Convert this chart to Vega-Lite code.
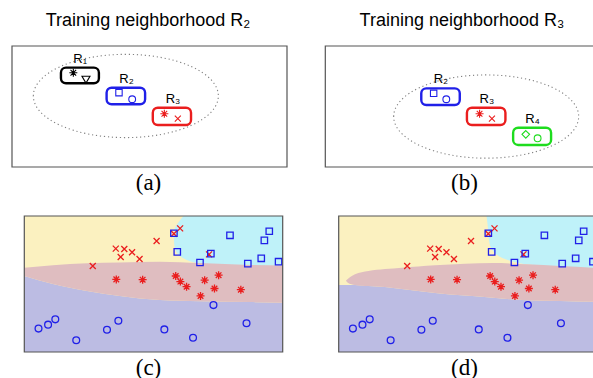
{
 "$schema": "https://vega.github.io/schema/vega-lite/v6.json",
 "background": "white",
 "padding": {"left": 0, "top": 12, "right": 0, "bottom": 0},
 "config": {
  "view": {"stroke": null},
  "title": {"font": "Liberation Sans", "fontSize": 18, "fontWeight": "normal", "color": "#000000", "offset": 15},
  "axisX": {"labels": false, "ticks": false, "domain": false, "grid": false, "titleFont": "Liberation Serif", "titleFontSize": 23, "titleFontWeight": "normal", "titleColor": "#000000", "titlePadding": 3}
 },
 "datasets": {
  "frame": [{"x": 0, "x2": 100, "y": 0, "y2": 100}],
  "ellA": [{"x": 41.4, "y": 58.7}],
  "ellB": [{"x": 58.5, "y": 41.7}],
  "boxA": [
   {"x": 17.8, "x2": 31.6, "y": 69.2, "y2": 82.1, "c": "k"},
   {"x": 34.4, "x2": 48.4, "y": 51.8, "y2": 65.5, "c": "b"},
   {"x": 51.2, "x2": 65.1, "y": 34.7, "y2": 49.0, "c": "r"}
  ],
  "boxB": [
   {"x": 34.9, "x2": 48.9, "y": 51.2, "y2": 65.0, "c": "b"},
   {"x": 51.5, "x2": 65.5, "y": 34.7, "y2": 49.0, "c": "r"},
   {"x": 68.3, "x2": 82.1, "y": 18.2, "y2": 32.5, "c": "g"}
  ],
  "mkA": [
   {"x": 22.3, "y": 77.9, "m": "ast", "c": "k"},
   {"x": 26.9, "y": 72.5, "m": "tri", "c": "k"},
   {"x": 38.9, "y": 61.4, "m": "sq", "c": "b"},
   {"x": 43.7, "y": 56.0, "m": "ci", "c": "b"},
   {"x": 55.4, "y": 44.0, "m": "ast", "c": "r"},
   {"x": 60.3, "y": 39.9, "m": "x", "c": "r"}
  ],
  "mkB": [
   {"x": 39.4, "y": 60.9, "m": "sq", "c": "b"},
   {"x": 44.0, "y": 56.0, "m": "ci", "c": "b"},
   {"x": 56.1, "y": 44.0, "m": "ast", "c": "r"},
   {"x": 60.6, "y": 39.9, "m": "x", "c": "r"},
   {"x": 72.9, "y": 27.0, "m": "dia", "c": "g"},
   {"x": 77.2, "y": 23.7, "m": "ci", "c": "g"}
  ],
  "lblA": [
   {"x": 22.3, "y": 86.2, "t": "R₁"},
   {"x": 39.0, "y": 69.7, "t": "R₂"},
   {"x": 55.9, "y": 53.1, "t": "R₃"}
  ],
  "lblB": [
   {"x": 39.4, "y": 69.7, "t": "R₂"},
   {"x": 56.1, "y": 53.1, "t": "R₃"},
   {"x": 72.7, "y": 36.6, "t": "R₄"}
  ],
  "bandC": [
   {"x": 0, "top": 62.0, "bot": 55.9},
   {"x": 11.1, "top": 63.8, "bot": 50.0},
   {"x": 24.3, "top": 65.2, "bot": 44.9},
   {"x": 37.0, "top": 65.8, "bot": 41.2},
   {"x": 52.5, "top": 66.4, "bot": 38.2},
   {"x": 68.0, "top": 65.4, "bot": 37.3},
   {"x": 87.4, "top": 64.0, "bot": 36.7},
   {"x": 100, "top": 63.6, "bot": 36.3}
  ],
  "cyanC": [
   {"y": 100, "x": 61.6},
   {"y": 94.9, "x": 59.5},
   {"y": 91.2, "x": 58.3},
   {"y": 85.0, "x": 57.9},
   {"y": 79.4, "x": 58.0},
   {"y": 74.3, "x": 58.7},
   {"y": 69.1, "x": 61.4},
   {"y": 65.4, "x": 66.9},
   {"y": 63.0, "x": 75.0},
   {"y": 60.0, "x": 82.0}
  ],
  "bandD": [
   {"x": 2.8, "top": 52.3, "bot": 52.3},
   {"x": 3.5, "top": 53.6, "bot": 51.0},
   {"x": 6.3, "top": 57.1, "bot": 49.3},
   {"x": 11.5, "top": 59.6, "bot": 48.5},
   {"x": 17.9, "top": 61.0, "bot": 47.8},
   {"x": 24.4, "top": 62.0, "bot": 46.3},
   {"x": 30.8, "top": 62.9, "bot": 44.9},
   {"x": 37.3, "top": 63.8, "bot": 43.4},
   {"x": 48.9, "top": 64.9, "bot": 41.5},
   {"x": 59.7, "top": 65.4, "bot": 39.9},
   {"x": 72.9, "top": 64.5, "bot": 38.0},
   {"x": 85.7, "top": 63.2, "bot": 37.5},
   {"x": 100.4, "top": 61.8, "bot": 36.8}
  ],
  "blueD": [
   {"x": 0, "y": 49.3},
   {"x": 6.3, "y": 49.3},
   {"x": 11.5, "y": 48.5},
   {"x": 17.9, "y": 47.8},
   {"x": 24.4, "y": 46.3},
   {"x": 30.8, "y": 44.9},
   {"x": 37.3, "y": 43.4},
   {"x": 48.9, "y": 41.5},
   {"x": 59.7, "y": 39.9},
   {"x": 72.9, "y": 38.0},
   {"x": 85.7, "y": 37.5},
   {"x": 100.4, "y": 36.8}
  ],
  "cyanD": [
   {"y": 100, "x": 57.2},
   {"y": 89.0, "x": 57.9},
   {"y": 81.6, "x": 58.2},
   {"y": 73.0, "x": 60.3},
   {"y": 68.2, "x": 64.6},
   {"y": 65.7, "x": 69.1},
   {"y": 64.5, "x": 72.8},
   {"y": 63.2, "x": 79.9},
   {"y": 60.0, "x": 88.0}
  ],
  "pts": [
   {"x": 60.3, "y": 90.9, "m": "x", "c": "r"},
   {"x": 57.9, "y": 87.0, "m": "x", "c": "r"},
   {"x": 51.2, "y": 81.6, "m": "x", "c": "r"},
   {"x": 35.4, "y": 76.0, "m": "x", "c": "r"},
   {"x": 38.7, "y": 75.7, "m": "x", "c": "r"},
   {"x": 41.7, "y": 73.3, "m": "x", "c": "r"},
   {"x": 37.3, "y": 69.9, "m": "x", "c": "r"},
   {"x": 44.6, "y": 68.4, "m": "x", "c": "r"},
   {"x": 26.5, "y": 63.2, "m": "x", "c": "r"},
   {"x": 71.5, "y": 71.8, "m": "x", "c": "r"},
   {"x": 57.9, "y": 87.3, "m": "sq", "c": "b"},
   {"x": 79.6, "y": 85.8, "m": "sq", "c": "b"},
   {"x": 94.8, "y": 88.8, "m": "sq", "c": "b"},
   {"x": 92.9, "y": 82.1, "m": "sq", "c": "b"},
   {"x": 59.2, "y": 73.6, "m": "sq", "c": "b"},
   {"x": 72.2, "y": 72.3, "m": "sq", "c": "b"},
   {"x": 68.0, "y": 65.8, "m": "sq", "c": "b"},
   {"x": 86.5, "y": 65.0, "m": "sq", "c": "b"},
   {"x": 91.7, "y": 68.9, "m": "sq", "c": "b"},
   {"x": 98.4, "y": 66.4, "m": "sq", "c": "b"},
   {"x": 35.6, "y": 53.4, "m": "ast", "c": "r"},
   {"x": 45.8, "y": 53.2, "m": "ast", "c": "r"},
   {"x": 58.6, "y": 55.9, "m": "ast", "c": "r"},
   {"x": 60.4, "y": 51.8, "m": "ast", "c": "r"},
   {"x": 62.8, "y": 48.0, "m": "ast", "c": "r"},
   {"x": 69.8, "y": 52.8, "m": "ast", "c": "r"},
   {"x": 75.2, "y": 56.5, "m": "ast", "c": "r"},
   {"x": 73.6, "y": 46.7, "m": "ast", "c": "r"},
   {"x": 68.2, "y": 41.2, "m": "ast", "c": "r"},
   {"x": 83.8, "y": 45.8, "m": "ast", "c": "r"},
   {"x": 73.2, "y": 34.5, "m": "ci", "c": "b"},
   {"x": 5.5, "y": 17.2, "m": "ci", "c": "b"},
   {"x": 9.2, "y": 20.1, "m": "ci", "c": "b"},
   {"x": 12.0, "y": 24.0, "m": "ci", "c": "b"},
   {"x": 20.1, "y": 8.6, "m": "ci", "c": "b"},
   {"x": 32.0, "y": 16.4, "m": "ci", "c": "b"},
   {"x": 36.4, "y": 23.0, "m": "ci", "c": "b"},
   {"x": 54.2, "y": 16.6, "m": "ci", "c": "b"},
   {"x": 65.3, "y": 10.5, "m": "ci", "c": "b"},
   {"x": 86.0, "y": 21.1, "m": "ci", "c": "b"}
  ]
 },
 "spacing": 21,
 "resolve": {"scale": {"x": "independent", "y": "independent"}},
 "vconcat": [
  {
   "spacing": 18,
   "resolve": {"scale": {"x": "independent", "y": "independent"}},
   "hconcat": [
    {
     "width": 296, "height": 123,
     "title": {"text": "Training neighborhood R₂"},
     "layer": [
      {"data": {"name": "frame"}, "mark": {"type": "rect", "filled": false, "stroke": "#555555", "strokeWidth": 1.2},
       "encoding": {
        "x": {"field": "x", "type": "quantitative", "scale": {"domain": [-4.364, 103.273], "nice": false, "zero": false}, "axis": {"title": "(a)"}},
        "x2": {"field": "x2"},
        "y": {"field": "y", "type": "quantitative", "scale": {"domain": [-0.826, 100.826], "nice": false, "zero": false}, "axis": null},
        "y2": {"field": "y2"}}},
      {"data": {"name": "ellA"}, "mark": {"type": "point", "shape": "M-1,0C-1,-0.2485,-0.5523,-0.45,0,-0.45C0.5523,-0.45,1,-0.2485,1,0C1,0.2485,0.5523,0.45,0,0.45C-0.5523,0.45,-1,0.2485,-1,0Z", "size": 34225, "filled": false, "stroke": "#808080", "strokeWidth": 1.1, "strokeDash": [1.2, 2.8], "opacity": 1},
       "encoding": {
        "x": {"field": "x", "type": "quantitative", "scale": {"domain": [-4.364, 103.273], "nice": false, "zero": false}, "axis": {"title": "(a)"}},
        "y": {"field": "y", "type": "quantitative", "scale": {"domain": [-0.826, 100.826], "nice": false, "zero": false}, "axis": null}}},
      {"data": {"name": "boxA"}, "mark": {"type": "rect", "filled": false, "cornerRadius": 5, "strokeWidth": 2.4},
       "encoding": {
        "x": {"field": "x", "type": "quantitative", "scale": {"domain": [-4.364, 103.273], "nice": false, "zero": false}, "axis": {"title": "(a)"}},
        "x2": {"field": "x2"},
        "y": {"field": "y", "type": "quantitative", "scale": {"domain": [-0.826, 100.826], "nice": false, "zero": false}, "axis": null},
        "y2": {"field": "y2"},
        "color": {"field": "c", "type": "nominal", "scale": {"domain": ["k", "b", "r", "g"], "range": ["#000000", "#2020e8", "#ea1e1e", "#1edc1e"]}, "legend": null}}},
      {"data": {"name": "mkA"}, "mark": {"type": "point", "filled": false, "size": 64, "strokeWidth": 1.1, "opacity": 1},
       "encoding": {
        "x": {"field": "x", "type": "quantitative", "scale": {"domain": [-4.364, 103.273], "nice": false, "zero": false}, "axis": {"title": "(a)"}},
        "y": {"field": "y", "type": "quantitative", "scale": {"domain": [-0.826, 100.826], "nice": false, "zero": false}, "axis": null},
        "shape": {"field": "m", "type": "nominal", "scale": {"domain": ["ast", "x", "sq", "ci", "tri", "dia"], "range": ["M-1,0L1,0M0,-1L0,1M-0.7,-0.7L0.7,0.7M-0.7,0.7L0.7,-0.7", "M-0.75,-0.75L0.75,0.75M-0.75,0.75L0.75,-0.75", "M-0.8,-0.8L0.8,-0.8L0.8,0.8L-0.8,0.8Z", "M-0.85,0C-0.85,-0.4695,-0.4695,-0.85,0,-0.85C0.4695,-0.85,0.85,-0.4695,0.85,0C0.85,0.4695,0.4695,0.85,0,0.85C-0.4695,0.85,-0.85,0.4695,-0.85,0Z", "M-1,-0.75L1,-0.75L0,0.95Z", "M0,-0.95L0.95,0L0,0.95L-0.95,0Z"]}, "legend": null},
        "color": {"field": "c", "type": "nominal", "scale": {"domain": ["k", "b", "r", "g"], "range": ["#000000", "#2020e8", "#ea1e1e", "#1edc1e"]}, "legend": null}}},
      {"data": {"name": "lblA"}, "mark": {"type": "text", "align": "left", "baseline": "alphabetic", "font": "Liberation Sans", "fontSize": 13, "color": "#000000"},
       "encoding": {
        "x": {"field": "x", "type": "quantitative", "scale": {"domain": [-4.364, 103.273], "nice": false, "zero": false}, "axis": {"title": "(a)"}},
        "y": {"field": "y", "type": "quantitative", "scale": {"domain": [-0.826, 100.826], "nice": false, "zero": false}, "axis": null},
        "text": {"field": "t"}}}
     ]
    },
    {
     "width": 279, "height": 123,
     "title": {"text": "Training neighborhood R₃", "dx": 8.5},
     "layer": [
      {"data": {"name": "frame"}, "mark": {"type": "rect", "filled": false, "stroke": "#555555", "strokeWidth": 1.2, "clip": true},
       "encoding": {
        "x": {"field": "x", "type": "quantitative", "scale": {"domain": [-4.109, 97.345], "nice": false, "zero": false}, "axis": {"title": "(b)", "titleX": 150}},
        "x2": {"field": "x2"},
        "y": {"field": "y", "type": "quantitative", "scale": {"domain": [-0.826, 100.826], "nice": false, "zero": false}, "axis": null},
        "y2": {"field": "y2"}}},
      {"data": {"name": "ellB"}, "mark": {"type": "point", "shape": "M-1,0C-1,-0.2485,-0.5523,-0.45,0,-0.45C0.5523,-0.45,1,-0.2485,1,0C1,0.2485,0.5523,0.45,0,0.45C-0.5523,0.45,-1,0.2485,-1,0Z", "size": 34225, "filled": false, "stroke": "#808080", "strokeWidth": 1.1, "strokeDash": [1.2, 2.8], "opacity": 1},
       "encoding": {
        "x": {"field": "x", "type": "quantitative", "scale": {"domain": [-4.109, 97.345], "nice": false, "zero": false}, "axis": {"title": "(b)", "titleX": 150}},
        "y": {"field": "y", "type": "quantitative", "scale": {"domain": [-0.826, 100.826], "nice": false, "zero": false}, "axis": null}}},
      {"data": {"name": "boxB"}, "mark": {"type": "rect", "filled": false, "cornerRadius": 5, "strokeWidth": 2.4},
       "encoding": {
        "x": {"field": "x", "type": "quantitative", "scale": {"domain": [-4.109, 97.345], "nice": false, "zero": false}, "axis": {"title": "(b)", "titleX": 150}},
        "x2": {"field": "x2"},
        "y": {"field": "y", "type": "quantitative", "scale": {"domain": [-0.826, 100.826], "nice": false, "zero": false}, "axis": null},
        "y2": {"field": "y2"},
        "color": {"field": "c", "type": "nominal", "scale": {"domain": ["k", "b", "r", "g"], "range": ["#000000", "#2020e8", "#ea1e1e", "#1edc1e"]}, "legend": null}}},
      {"data": {"name": "mkB"}, "mark": {"type": "point", "filled": false, "size": 64, "strokeWidth": 1.1, "opacity": 1},
       "encoding": {
        "x": {"field": "x", "type": "quantitative", "scale": {"domain": [-4.109, 97.345], "nice": false, "zero": false}, "axis": {"title": "(b)", "titleX": 150}},
        "y": {"field": "y", "type": "quantitative", "scale": {"domain": [-0.826, 100.826], "nice": false, "zero": false}, "axis": null},
        "shape": {"field": "m", "type": "nominal", "scale": {"domain": ["ast", "x", "sq", "ci", "tri", "dia"], "range": ["M-1,0L1,0M0,-1L0,1M-0.7,-0.7L0.7,0.7M-0.7,0.7L0.7,-0.7", "M-0.75,-0.75L0.75,0.75M-0.75,0.75L0.75,-0.75", "M-0.8,-0.8L0.8,-0.8L0.8,0.8L-0.8,0.8Z", "M-0.85,0C-0.85,-0.4695,-0.4695,-0.85,0,-0.85C0.4695,-0.85,0.85,-0.4695,0.85,0C0.85,0.4695,0.4695,0.85,0,0.85C-0.4695,0.85,-0.85,0.4695,-0.85,0Z", "M-1,-0.75L1,-0.75L0,0.95Z", "M0,-0.95L0.95,0L0,0.95L-0.95,0Z"]}, "legend": null},
        "color": {"field": "c", "type": "nominal", "scale": {"domain": ["k", "b", "r", "g"], "range": ["#000000", "#2020e8", "#ea1e1e", "#1edc1e"]}, "legend": null}}},
      {"data": {"name": "lblB"}, "mark": {"type": "text", "align": "left", "baseline": "alphabetic", "font": "Liberation Sans", "fontSize": 13, "color": "#000000"},
       "encoding": {
        "x": {"field": "x", "type": "quantitative", "scale": {"domain": [-4.109, 97.345], "nice": false, "zero": false}, "axis": {"title": "(b)", "titleX": 150}},
        "y": {"field": "y", "type": "quantitative", "scale": {"domain": [-0.826, 100.826], "nice": false, "zero": false}, "axis": null},
        "text": {"field": "t"}}}
     ]
    }
   ]
  },
  {
   "spacing": 18,
   "resolve": {"scale": {"x": "independent", "y": "independent"}},
   "hconcat": [
    {
     "width": 296, "height": 138,
     "layer": [
      {"data": {"name": "frame"}, "mark": {"type": "rect", "color": "#fbf1c0"},
       "encoding": {
        "x": {"field": "x", "type": "quantitative", "scale": {"domain": [-9.404, 105.147], "nice": false, "zero": false}, "axis": {"title": "(c)"}},
        "x2": {"field": "x2"},
        "y": {"field": "y", "type": "quantitative", "scale": {"domain": [-0.735, 100.735], "nice": false, "zero": false}, "axis": null},
        "y2": {"field": "y2"}}},
      {"data": {"name": "cyanC"}, "mark": {"type": "area", "orient": "horizontal", "interpolate": "monotone", "color": "#bff2f9", "opacity": 1},
       "encoding": {
        "y": {"field": "y", "type": "quantitative", "scale": {"domain": [-0.735, 100.735], "nice": false, "zero": false}, "axis": null},
        "x": {"field": "x", "type": "quantitative", "scale": {"domain": [-9.404, 105.147], "nice": false, "zero": false}, "axis": {"title": "(c)"}},
        "x2": {"datum": 100}}},
      {"data": {"name": "bandC"}, "mark": {"type": "area", "interpolate": "monotone", "color": "#bcbce3", "opacity": 1},
       "encoding": {
        "x": {"field": "x", "type": "quantitative", "scale": {"domain": [-9.404, 105.147], "nice": false, "zero": false}, "axis": {"title": "(c)"}},
        "y": {"field": "bot", "type": "quantitative", "scale": {"domain": [-0.735, 100.735], "nice": false, "zero": false}, "axis": null},
        "y2": {"datum": 0}}},
      {"data": {"name": "bandC"}, "mark": {"type": "area", "interpolate": "monotone", "color": "#dfbdc0", "opacity": 1},
       "encoding": {
        "x": {"field": "x", "type": "quantitative", "scale": {"domain": [-9.404, 105.147], "nice": false, "zero": false}, "axis": {"title": "(c)"}},
        "y": {"field": "top", "type": "quantitative", "scale": {"domain": [-0.735, 100.735], "nice": false, "zero": false}, "axis": null},
        "y2": {"field": "bot"}}},
      {"data": {"name": "pts"}, "mark": {"type": "point", "filled": false, "size": 64, "strokeWidth": 1.3, "opacity": 1},
       "encoding": {
        "x": {"field": "x", "type": "quantitative", "scale": {"domain": [-9.404, 105.147], "nice": false, "zero": false}, "axis": {"title": "(c)"}},
        "y": {"field": "y", "type": "quantitative", "scale": {"domain": [-0.735, 100.735], "nice": false, "zero": false}, "axis": null},
        "shape": {"field": "m", "type": "nominal", "scale": {"domain": ["ast", "x", "sq", "ci", "tri", "dia"], "range": ["M-1,0L1,0M0,-1L0,1M-0.7,-0.7L0.7,0.7M-0.7,0.7L0.7,-0.7", "M-0.75,-0.75L0.75,0.75M-0.75,0.75L0.75,-0.75", "M-0.8,-0.8L0.8,-0.8L0.8,0.8L-0.8,0.8Z", "M-0.85,0C-0.85,-0.4695,-0.4695,-0.85,0,-0.85C0.4695,-0.85,0.85,-0.4695,0.85,0C0.85,0.4695,0.4695,0.85,0,0.85C-0.4695,0.85,-0.85,0.4695,-0.85,0Z", "M-1,-0.75L1,-0.75L0,0.95Z", "M0,-0.95L0.95,0L0,0.95L-0.95,0Z"]}, "legend": null},
        "color": {"field": "c", "type": "nominal", "scale": {"domain": ["k", "b", "r", "g"], "range": ["#000000", "#2020e8", "#ea1e1e", "#1edc1e"]}, "legend": null}}},
      {"data": {"name": "frame"}, "mark": {"type": "rect", "filled": false, "stroke": "#555555", "strokeWidth": 1.2},
       "encoding": {
        "x": {"field": "x", "type": "quantitative", "scale": {"domain": [-9.404, 105.147], "nice": false, "zero": false}, "axis": {"title": "(c)"}},
        "x2": {"field": "x2"},
        "y": {"field": "y", "type": "quantitative", "scale": {"domain": [-0.735, 100.735], "nice": false, "zero": false}, "axis": null},
        "y2": {"field": "y2"}}}
     ]
    },
    {
     "width": 279, "height": 138,
     "layer": [
      {"data": {"name": "frame"}, "mark": {"type": "rect", "color": "#fbf1c0", "clip": true},
       "encoding": {
        "x": {"field": "x", "type": "quantitative", "scale": {"domain": [-9.559, 98.413], "nice": false, "zero": false}, "axis": {"title": "(d)", "titleX": 150}},
        "x2": {"field": "x2"},
        "y": {"field": "y", "type": "quantitative", "scale": {"domain": [-0.735, 100.735], "nice": false, "zero": false}, "axis": null},
        "y2": {"field": "y2"}}},
      {"data": {"name": "cyanD"}, "mark": {"type": "area", "orient": "horizontal", "interpolate": "monotone", "color": "#bff2f9", "opacity": 1, "clip": true},
       "encoding": {
        "y": {"field": "y", "type": "quantitative", "scale": {"domain": [-0.735, 100.735], "nice": false, "zero": false}, "axis": null},
        "x": {"field": "x", "type": "quantitative", "scale": {"domain": [-9.559, 98.413], "nice": false, "zero": false}, "axis": {"title": "(d)", "titleX": 150}},
        "x2": {"datum": 100}}},
      {"data": {"name": "blueD"}, "mark": {"type": "area", "interpolate": "monotone", "color": "#bcbce3", "opacity": 1, "clip": true},
       "encoding": {
        "x": {"field": "x", "type": "quantitative", "scale": {"domain": [-9.559, 98.413], "nice": false, "zero": false}, "axis": {"title": "(d)", "titleX": 150}},
        "y": {"field": "y", "type": "quantitative", "scale": {"domain": [-0.735, 100.735], "nice": false, "zero": false}, "axis": null},
        "y2": {"datum": 0}}},
      {"data": {"name": "bandD"}, "mark": {"type": "area", "interpolate": "monotone", "color": "#dfbdc0", "opacity": 1, "clip": true},
       "encoding": {
        "x": {"field": "x", "type": "quantitative", "scale": {"domain": [-9.559, 98.413], "nice": false, "zero": false}, "axis": {"title": "(d)", "titleX": 150}},
        "y": {"field": "top", "type": "quantitative", "scale": {"domain": [-0.735, 100.735], "nice": false, "zero": false}, "axis": null},
        "y2": {"field": "bot"}}},
      {"data": {"name": "pts"}, "mark": {"type": "point", "filled": false, "size": 64, "strokeWidth": 1.3, "opacity": 1, "clip": true},
       "encoding": {
        "x": {"field": "x", "type": "quantitative", "scale": {"domain": [-9.559, 98.413], "nice": false, "zero": false}, "axis": {"title": "(d)", "titleX": 150}},
        "y": {"field": "y", "type": "quantitative", "scale": {"domain": [-0.735, 100.735], "nice": false, "zero": false}, "axis": null},
        "shape": {"field": "m", "type": "nominal", "scale": {"domain": ["ast", "x", "sq", "ci", "tri", "dia"], "range": ["M-1,0L1,0M0,-1L0,1M-0.7,-0.7L0.7,0.7M-0.7,0.7L0.7,-0.7", "M-0.75,-0.75L0.75,0.75M-0.75,0.75L0.75,-0.75", "M-0.8,-0.8L0.8,-0.8L0.8,0.8L-0.8,0.8Z", "M-0.85,0C-0.85,-0.4695,-0.4695,-0.85,0,-0.85C0.4695,-0.85,0.85,-0.4695,0.85,0C0.85,0.4695,0.4695,0.85,0,0.85C-0.4695,0.85,-0.85,0.4695,-0.85,0Z", "M-1,-0.75L1,-0.75L0,0.95Z", "M0,-0.95L0.95,0L0,0.95L-0.95,0Z"]}, "legend": null},
        "color": {"field": "c", "type": "nominal", "scale": {"domain": ["k", "b", "r", "g"], "range": ["#000000", "#2020e8", "#ea1e1e", "#1edc1e"]}, "legend": null}}},
      {"data": {"name": "frame"}, "mark": {"type": "rect", "filled": false, "stroke": "#555555", "strokeWidth": 1.2, "clip": true},
       "encoding": {
        "x": {"field": "x", "type": "quantitative", "scale": {"domain": [-9.559, 98.413], "nice": false, "zero": false}, "axis": {"title": "(d)", "titleX": 150}},
        "x2": {"field": "x2"},
        "y": {"field": "y", "type": "quantitative", "scale": {"domain": [-0.735, 100.735], "nice": false, "zero": false}, "axis": null},
        "y2": {"field": "y2"}}}
     ]
    }
   ]
  }
 ]
}
